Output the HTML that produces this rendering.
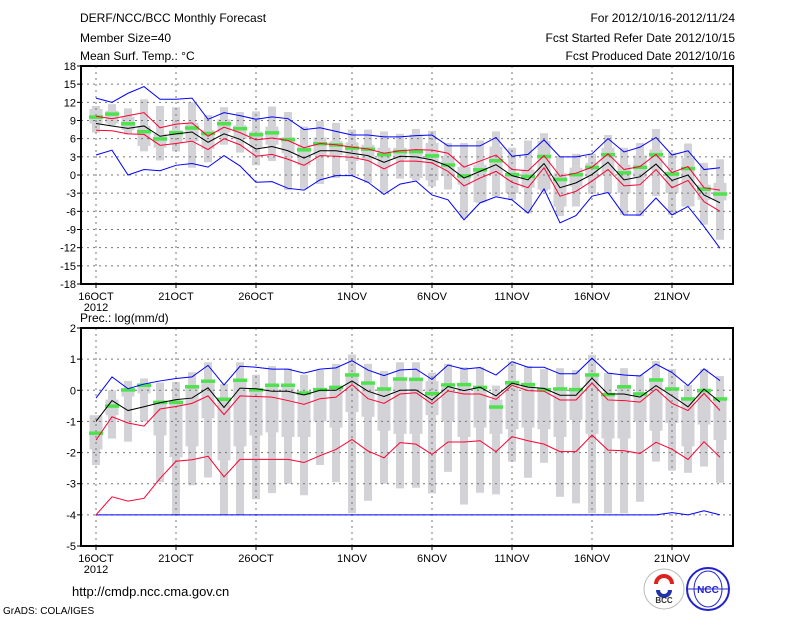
<!DOCTYPE html>
<html><head><meta charset="utf-8"><style>
body{margin:0;background:#fff;}
svg{display:block;font-family:"Liberation Sans",sans-serif;}
</style></head><body>
<svg id="c" width="800" height="618" viewBox="0 0 800 618">
<g font-size="12" fill="#000">
<text x="80" y="22">DERF/NCC/BCC Monthly Forecast</text>
<text x="80" y="42">Member Size=40</text>
<text x="80" y="60">Mean Surf. Temp.: °C</text>
<text x="735" y="22" text-anchor="end">For 2012/10/16-2012/11/24</text>
<text x="735" y="42" text-anchor="end">Fcst Started Refer Date 2012/10/15</text>
<text x="735" y="60" text-anchor="end">Fcst Produced Date 2012/10/16</text>
<text x="80" y="322">Prec.: log(mm/d)</text>
<text x="72" y="596" font-size="13">http://cmdp.ncc.cma.gov.cn</text>
<text x="3" y="614" font-size="10">GrADS: COLA/IGES</text>
</g>
<g>
<circle cx="664" cy="589" r="20" fill="#fff" stroke="#bbb"/>
<path d="M656 584 a8 8 0 1 1 16 0" fill="none" stroke="#d22" stroke-width="4"/>
<path d="M658 590 a6 6 0 0 0 12 0" fill="none" stroke="#23a" stroke-width="4"/>
<text x="664" y="603" font-size="8" text-anchor="middle" font-weight="bold" fill="#333">BCC</text>
<circle cx="708" cy="589" r="21" fill="#fff" stroke="#22c" stroke-width="2"/>
<ellipse cx="708" cy="589" rx="14" ry="18" fill="none" stroke="#22c"/>
<line x1="687" y1="589" x2="729" y2="589" stroke="#22c"/>
<text x="708" y="593" font-size="10" text-anchor="middle" font-weight="bold" fill="#22c">NCC</text>
</g>
<g id="p1"></g><g id="p2"></g>
</svg>
<script>
const xLabels=["16OCT","21OCT","26OCT","1NOV","6NOV","11NOV","16NOV","21NOV"];
const xLabelDays=[0,5,10,16,21,26,31,36];
const tTicks=[18,15,12,9,6,3,0,-3,-6,-9,-12,-15,-18];
const pTicks=[2,1,0,-1,-2,-3,-4,-5];
// Temperature panel
const tBlueU=[12.7,12,13.5,14.6,12.5,12.5,12.7,9.2,10.3,9.8,9.2,9.6,9.3,7.5,7.8,7.2,6.6,6.6,6.3,6.3,6.5,6.6,4.8,4.8,4.8,6.2,3.1,3.4,5.8,3.0,3.0,3.5,6.0,3.8,4.6,6.2,3.3,4.0,0.9,1.2];
const tBlueL=[3.3,4.1,0,0.9,0.7,1.6,1.9,1.3,3.2,1.5,-1.2,-1.1,-2.2,-2.5,-0.8,-0.1,-0.1,-1.2,-3.2,-1.5,-1.0,-3.3,-4.1,-7.4,-4.6,-3.6,-4.1,-6.3,-2.3,-7.9,-6.7,-3.5,-2.9,-6.6,-6.6,-3.8,-6.6,-5.2,-8.5,-12.1];
const tRedU=[9.7,9.3,9.8,10.3,7.8,8.4,8.6,6.4,7.9,7.0,5.8,6.1,5.7,4.5,5.2,5.0,4.6,4.3,3.6,4.0,4.2,4.1,3.6,1.3,2.3,3.3,0.9,0.7,3.2,-0.2,0.3,1.3,3.5,0.9,1.4,3.4,0.4,1.4,-2.1,-2.5];
const tMean=[8.5,8.1,7.7,8.1,6.4,6.8,7.1,5.4,6.8,5.9,4.3,4.7,4.0,2.8,4.0,4.0,3.6,3.2,2.1,3.1,3.0,2.5,1.5,-0.5,0.6,1.7,-0.1,-0.8,1.9,-2.1,-1.3,0.1,2.1,-0.8,-0.3,1.8,-0.9,0,-3.3,-4.6];
const tRedL=[7.4,7.3,6.8,6.7,4.9,5.2,5.6,4.2,6.0,5.0,3.1,3.4,2.6,1.6,3.2,3.1,2.9,2.4,1.0,2.3,2.3,2.0,0.6,-1.8,-0.5,0.6,-1.2,-2.1,1.2,-3.5,-2.7,-1.0,0.9,-1.8,-1.6,0.9,-2.1,-0.9,-4.4,-6.0];
const tGreen=[9.6,10.1,8.5,7.2,6.0,7.0,7.8,6.9,8.5,7.7,6.7,7.0,5.9,4.2,5.2,5.0,4.5,4.3,3.4,3.9,3.9,3.2,1.7,-0.1,0.9,2.4,0.1,-0.2,3.1,-0.7,0.1,1.3,3.4,0.4,1.3,3.4,0.2,1.1,-2.3,-3.1];
const tWMax=[11.4,11.7,11.0,12.5,11.4,11.2,12.0,9.9,11.2,10.4,10.5,11.3,10.4,8.0,8.9,8.6,7.5,7.5,7.2,6.8,7.6,7.3,5.3,5.3,5.7,7.2,4.5,5.7,6.9,3.1,3.5,3.5,6.6,4.5,5.3,7.6,3.7,5.2,2.0,2.6];
const tWMin=[7.0,8.2,6.7,3.9,2.4,3.9,1.2,2.1,5.0,3.7,1.6,2.3,-2.5,-2.3,-1.5,-0.5,-0.2,-1.3,-2.9,-0.6,-0.9,-1.9,-2.4,-7.1,-4.6,-3.5,-4.1,-6.3,-2.7,-6.8,-5.2,-3.1,-3.0,-6.6,-6.8,-3.5,-6.6,-5.2,-8.2,-10.7];
const tBMax=[10.9,10.6,9.6,8.1,6.8,7.4,8.6,7.4,9.2,8.2,7.2,8.0,6.2,5.0,6.2,5.6,5.4,5.0,4.5,4.5,6.7,5.3,3.1,1.3,1.7,4.7,0.4,0.9,5.6,0.3,1.2,2.0,4.5,1.7,3.2,4.2,0.6,2.8,-1.6,-1.3];
const tBMin=[8.5,8.5,7.4,4.8,4.5,5.2,5.6,4.3,7.0,5.9,4.5,5.0,3.6,1.6,3.2,3.3,2.3,2.6,1.4,2.6,-0.5,-0.9,-0.2,-1.6,-4.5,0.1,-3.0,-2.1,-2.4,-5.2,-1.9,-0.5,0.1,-3.0,-0.5,0.9,-3.0,-5.2,-4.1,-4.2];
// Precipitation panel
const pBlueU=[-0.25,0.43,0.05,0.2,0.3,0.38,0.43,0.8,0.17,0.77,0.74,0.68,0.68,0.55,0.68,0.72,0.95,0.65,0.47,0.65,0.68,0.35,0.81,0.68,0.73,0.49,0.92,0.74,0.74,0.53,0.53,1.03,0.55,0.49,0.46,0.84,0.57,0.15,0.69,0.31];
const pBlueL=[-4,-4,-4,-4,-4,-4,-4,-4,-4,-4,-4,-4,-4,-4,-4,-4,-4,-4,-4,-4,-4,-4,-4,-4,-4,-4,-4,-4,-4,-4,-4,-4,-4,-4,-4,-4,-3.93,-4,-3.87,-4];
const pRedU=[-1.6,-0.85,-1.05,-1.15,-0.6,-0.52,-0.42,-0.18,-0.78,-0.18,-0.2,-0.22,-0.33,-0.45,-0.27,-0.22,0.18,-0.27,-0.42,-0.12,-0.08,-0.44,-0.02,-0.12,-0.12,-0.29,0.16,-0.01,-0.03,-0.31,-0.31,0.23,-0.31,-0.33,-0.38,0.04,-0.42,-0.65,-0.1,-0.65];
const pMean=[-1.0,-0.33,-0.65,-0.53,-0.4,-0.3,-0.25,0.08,-0.55,0.07,0.05,-0.03,-0.03,-0.15,0,0,0.3,-0.03,-0.2,0,0.01,-0.31,0.12,-0.01,0.1,-0.18,0.23,0.1,0.06,-0.16,-0.16,0.39,-0.12,-0.12,-0.22,0.15,-0.18,-0.53,0.04,-0.38];
const pRedL=[-4.0,-3.42,-3.56,-3.47,-2.83,-2.28,-2.23,-2.12,-2.78,-2.22,-2.22,-2.22,-2.22,-2.32,-2.1,-1.9,-1.58,-1.95,-2.17,-1.68,-1.73,-2.06,-1.66,-1.66,-1.62,-1.97,-1.49,-1.62,-1.73,-1.97,-1.97,-1.44,-1.92,-1.94,-2.03,-1.67,-1.89,-2.22,-1.65,-2.15];
const pGreen=[-1.37,-0.5,0.02,0.17,-0.38,-0.38,0.12,0.3,-0.28,0.33,0.02,0.17,0.17,-0.08,0.03,0.1,0.5,0.24,0.05,0.37,0.36,-0.1,0.18,0.19,0.1,-0.53,0.25,0.19,0.03,0.05,0.03,0.5,-0.13,0.12,-0.11,0.34,0.05,-0.27,0,-0.27];
const pWMax=[-0.83,0,0.3,0.38,0.25,0.27,0.58,0.9,0.2,0.9,0.5,0.78,0.7,0.5,0.65,0.85,1.15,0.85,0.62,0.9,0.9,0.57,0.85,0.74,0.74,0.15,0.92,0.78,0.68,0.71,0.65,1.14,0.55,0.71,0.49,0.94,0.68,0.17,0.68,0.46];
const pWMin=[-2.4,-1.55,-1.65,-1.0,-2.95,-4.0,-3.05,-2.8,-4.0,-4.0,-3.5,-3.3,-3.0,-3.37,-2.4,-2.95,-3.95,-3.55,-3.0,-3.15,-3.13,-3.31,-2.62,-3.67,-3.29,-3.34,-2.29,-2.81,-2.33,-3.42,-3.63,-3.95,-3.95,-3.95,-3.58,-2.29,-2.58,-2.65,-2.45,-2.97];
const pBMax=[-0.8,-0.3,0.05,0.2,-0.35,-0.4,0.05,0.3,-0.3,0.3,0.05,0.2,0.2,-0.05,0.05,0.15,0.45,0.25,0.05,0.35,0.4,0.3,0.1,0.2,0.1,-0.3,0.25,0.2,0.05,0.05,0.05,0.5,-0.1,0.1,-0.1,0.35,0.05,-0.3,0,-0.3];
const pBMin=[-1.9,-0.8,-0.2,-0.1,-1.45,-2.15,-1.8,-0.9,-2.25,-1.8,-1.45,-1.35,-1.5,-1.5,-1.0,-1.2,-0.7,-0.85,-1.3,-1.4,-1.4,-0.8,-1.0,-1.5,-1.2,-1.4,-1.25,-1.2,-1.25,-1.5,-0.95,-1.4,-1.55,-1.55,-1.0,-1.3,-1.05,-1.8,-1.1,-1.6];

const NS="http://www.w3.org/2000/svg";
const X0=81,X1=733;
function xS(d){return 96+d*16;}
function mk(parent,tag,attrs){const e=document.createElementNS(NS,tag);for(const k in attrs)e.setAttribute(k,attrs[k]);parent.appendChild(e);return e;}
function panel(g,top,bot,vmax,vmin,ticks,gridVals,s){
  const yS=v=>top+(vmax-v)/(vmax-vmin)*(bot-top);
  // gray whiskers and boxes
  for(let d=0;d<s.wmax.length;d++){
    const w=mk(g,'rect',{x:xS(d)-4,y:yS(s.wmax[d]),width:8,height:Math.max(1,yS(s.wmin[d])-yS(s.wmax[d])),fill:'#d3d3d7'});
    
    
    const b=mk(g,'rect',{x:xS(d)-6.5,y:yS(s.bmax[d]),width:13,height:Math.max(1,yS(s.bmin[d])-yS(s.bmax[d])),fill:'#d3d3d7'});
    
    
  }
  // grid
  gridVals.forEach(v=>{const l=mk(g,'line',{x1:X0,x2:X1,y1:yS(v),y2:yS(v),stroke:'#777','stroke-dasharray':'2,4','stroke-width':1});
    
    });
  xLabelDays.forEach(d=>{const l=mk(g,'line',{x1:xS(d),x2:xS(d),y1:top,y2:bot,stroke:'#777','stroke-dasharray':'2,4','stroke-width':1});
    
    });
  // green bars
  s.green.forEach((v,d)=>{const r=mk(g,'rect',{x:xS(d)-7,y:yS(v)-1.5,width:14,height:3.5,fill:'#4ee34e'});
    
    });
  const line=(arr,col,name)=>{const p=mk(g,'polyline',{points:arr.map((v,d)=>xS(d)+','+yS(v)).join(' '),fill:'none',stroke:col,'stroke-width':1});
    
    };
  line(s.blueU,'#0000ff','blue-upper-line');line(s.blueL,'#0000ff','blue-lower-line');
  line(s.redU,'#ff0030','red-upper-line');line(s.redL,'#ff0030','red-lower-line');
  line(s.mean,'#000','mean-line');
  const fr=mk(g,'rect',{x:X0,y:top,width:X1-X0,height:bot-top,fill:'none',stroke:'#000','stroke-width':2});
  
  
  ticks.forEach(v=>{mk(g,'line',{x1:X0-4,x2:X0,y1:yS(v),y2:yS(v),stroke:'#000'});
    const t=mk(g,'text',{x:X0-5,y:yS(v)+4,'text-anchor':'end','font-size':11});t.textContent=v;
    
    });
  xLabelDays.forEach((d,i)=>{mk(g,'line',{x1:xS(d),x2:xS(d),y1:bot,y2:bot+4,stroke:'#000'});
    const t=mk(g,'text',{x:xS(d),y:bot+16,'text-anchor':'middle','font-size':11});t.textContent=xLabels[i];
    
    });
  const yr=mk(g,'text',{x:xS(0),y:bot+27,'text-anchor':'middle','font-size':11});yr.textContent='2012';
  
  
}
const g1=document.getElementById('p1');


panel(g1,66,284,18,-18,tTicks,[15,12,9,6,3,0,-3,-6,-9,-12,-15],{wmax:tWMax,wmin:tWMin,bmax:tBMax,bmin:tBMin,green:tGreen,blueU:tBlueU,blueL:tBlueL,redU:tRedU,redL:tRedL,mean:tMean});
const g2=document.getElementById('p2');


panel(g2,328,546,2,-5,pTicks,[1,0,-1,-2,-3,-4],{wmax:pWMax,wmin:pWMin,bmax:pBMax,bmin:pBMin,green:pGreen,blueU:pBlueU,blueL:pBlueL,redU:pRedU,redL:pRedL,mean:pMean});
</script>
</body></html>
